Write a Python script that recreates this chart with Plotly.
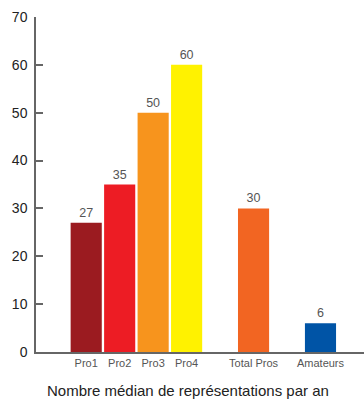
import plotly.graph_objects as go

# Chart data
categories = ["Pro1", "Pro2", "Pro3", "Pro4", "Total Pros", "Amateurs"]
groups = ["pro", "pro", "pro", "pro", "total", "amateur"]
values = [27, 35, 50, 60, 30, 6]
colors = ["#9B1B20", "#ED1C24", "#F7941D", "#FFF200", "#F26522", "#0054A6"]
y_ticks = [0, 10, 20, 30, 40, 50, 60, 70]
title_text = "Nombre médian de représentations par an"

# Bars in the same group sit side by side; a blank slot separates groups
positions = []
slot = 0
for i, g in enumerate(groups):
    if i > 0:
        slot += 1 if g == groups[i - 1] else 2
    positions.append(slot)

font_family = "Liberation Sans, Arial, sans-serif"

fig = go.Figure(
    go.Bar(
        x=positions,
        y=values,
        width=0.93,
        marker=dict(color=colors, line=dict(width=0)),
        text=[str(v) for v in values],
        textposition="outside",
        textfont=dict(family=font_family, size=12.5, color="#555555"),
        cliponaxis=False,
        hoverinfo="skip",
    )
)

fig.update_layout(
    width=364,
    height=400,
    margin=dict(l=36, r=0, t=17, b=48),
    paper_bgcolor="white",
    plot_bgcolor="white",
    showlegend=False,
    font=dict(family=font_family),
    xaxis=dict(
        range=[positions[0] - 1.5, positions[-1] + 1.3],
        tickmode="array",
        tickvals=positions,
        ticktext=categories,
        tickfont=dict(size=11, color="#555555"),
        showgrid=False,
        zeroline=False,
        showline=True,
        linecolor="#666666",
        linewidth=1.5,
        ticks="",
        fixedrange=True,
    ),
    yaxis=dict(
        range=[0, 70],
        tickmode="array",
        tickvals=y_ticks,
        tickfont=dict(size=14, color="#222222"),
        ticklabelstandoff=4,
        showgrid=False,
        zeroline=False,
        showline=True,
        linecolor="#666666",
        linewidth=1.5,
        ticks="inside",
        ticklen=7,
        tickwidth=1.5,
        tickcolor="#666666",
        fixedrange=True,
    ),
    annotations=[
        dict(
            text=title_text,
            xref="paper",
            yref="paper",
            x=0.463,
            y=-0.115,
            xanchor="center",
            yanchor="middle",
            showarrow=False,
            font=dict(family=font_family, size=15, color="#222222"),
        )
    ],
)

fig.write_html("out.html")
